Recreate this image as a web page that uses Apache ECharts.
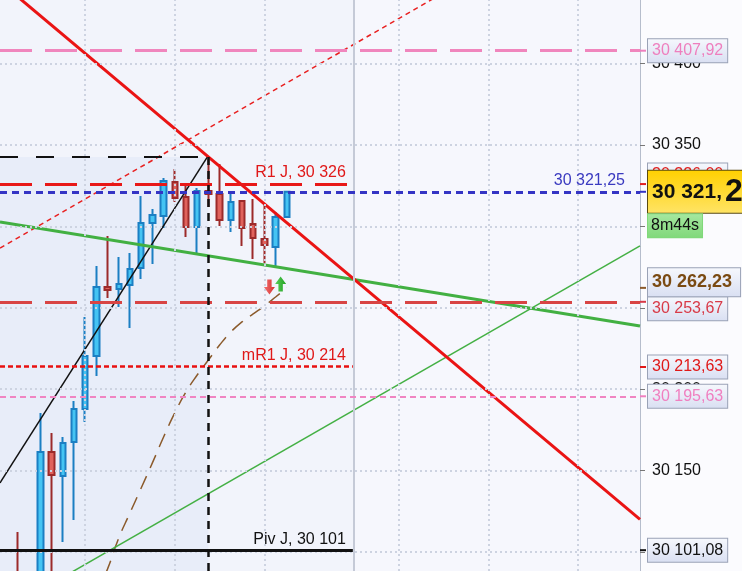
<!DOCTYPE html>
<html><head><meta charset="utf-8">
<script src="https://cdn.jsdelivr.net/npm/echarts@6/dist/echarts.min.js"></script>
<style>html,body{margin:0;padding:0;background:#fbfbfe;}#c{width:742px;height:571px;}</style>
</head><body><div id="c"></div>
<script>
const FONT = "'Liberation Sans', Arial, sans-serif";
// ---- axes extents (candle index on x, price on y)
const X_MIN = -1.607, X_MAX = 55.54;
const Y_MIN = 30088.3, Y_MAX = 30439.07;
const yTicks = [30100, 30150, 30200, 30250, 30300, 30350, 30400];
const gridXs = [6, 14, 22, 34, 42, 50];
const sessionX = 30;
// ---- candles
const candleIdx = [0,1,2,3,4,5,6,7,8,9,10,11,12,13,14,15,16,17,18,19,20,21,22,23,24];
const opens  = [30085,30060,30080,30161.4,30146.7,30167.6,30187.8,30220.4,30262.8,30261.5,30264.0,30274.4,30302.1,30306.4,30327.3,30318.1,30299.6,30321.7,30319.9,30303.9,30315.6,30301.5,30292.3,30287.3,30305.8];
const closes = [30070,30075,30161.4,30147.3,30167.0,30187.8,30220.4,30262.8,30260.9,30264.6,30273.8,30302.1,30307.0,30327.9,30317.4,30299.6,30321.7,30319.9,30303.9,30315.0,30299.0,30292.9,30288.6,30305.8,30321.25];
const lows   = [30060,30050,30070,30075,30106.1,30119.7,30179.9,30208.1,30256.0,30250.5,30237.6,30267.7,30276.9,30299.0,30315.0,30293.5,30282.4,30311.9,30300.2,30296.6,30288.0,30280.0,30277.5,30275.1,30305.8];
const highs  = [30112.3,30085,30185.4,30173.1,30170.6,30192.8,30244.3,30275.7,30294.1,30281.2,30283.7,30318.7,30310.7,30329.7,30335.3,30325.4,30323.6,30341.4,30338.3,30321.1,30316.2,30316.8,30313.8,30308.8,30321.25];
// ---- moving average (brown dashed)
const maIdx  = [7,8,9,10,11,12,13,14,15,16,17,18,19,20,21,22,23,24];
const maVals = [30073.6,30089.6,30108.6,30124.0,30139.3,30154.7,30170.6,30185.4,30198.3,30208.7,30217.9,30227.1,30235.1,30241.3,30246.2,30251.1,30256.6,30262.23];
// ---- trend lines (two end points each)
const redTrendX = [X_MIN, X_MAX], redTrendY = [30450.2, 30120.0];
const redDotX = [X_MIN, X_MAX], redDotY = [30286.7, 30513.0];
const greenX = [X_MIN, X_MAX], greenY = [30302.7, 30238.8];
const greenThinX = [X_MIN, X_MAX], greenThinY = [30062.3, 30288.0];
const blackX = [X_MIN, 16.9], blackY = [30142.4, 30342.6];
// ---- levels
const lastPrice = 30321.25;
const maLast = 30262.23;
const boxHigh = 30342.6, boxIdx = 17;
const pink1 = 30407.92, redLevel = 30253.67, pink2 = 30195.63;
const pivotNames = ['R1 J', 'mR1 J', 'Piv J'];
const pivotVals = [30326, 30214, 30101];
const pivotBoxVals = [30326.00, 30213.63, 30101.08];
const pivotEnd = 29.9;
const timerText = '8m44s';
const signalDown = [22.45, 30262.8], signalUp = [23.45, 30264.6], signalTxt = [23.2, 30253.0];

function fmt(v, dec) {
  const s = v.toFixed(dec); const p = s.split('.');
  const ip = p[0].replace(/\B(?=(\d{3})+(?!\d))/g, ' ');
  return p[1] ? ip + ',' + p[1] : ip;
}
const chart = echarts.init(document.getElementById('c'), null, {renderer: 'canvas'});
const G = echarts.graphic.LinearGradient;
const boxBg = () => new G(0,0,0,1,[{offset:0,color:'#f6f8fd'},{offset:1,color:'#d9dff2'}]);
function box(v, color, extra, tick) {
  return Object.assign({
    coord: [X_MAX, v],
    symbol: 'rect', symbolSize: [6, 2], symbolOffset: [3, 0],
    itemStyle: {color: tick || color},
    label: Object.assign({
      show: true, position: 'right', distance: 2, formatter: fmt(v, 2),
      color: color, fontSize: 16, fontFamily: FONT, lineHeight: 18,
      backgroundColor: boxBg(), borderColor: '#9aa2b6', borderWidth: 1, padding: [3, 4, 2, 4]
    }, extra || {})
  });
}
function seg(x0, x1, v, style, label) {
  return [{coord: [x0, v], lineStyle: style, label: label || {show: false}}, {coord: [x1, v]}];
}
function lineSeries(xs, ys, style, z) {
  return {type: 'line', data: xs.map((x, i) => [x, ys[i]]), showSymbol: false, symbol: 'none',
    lineStyle: style, z: z || 3, silent: true, clip: true, animation: false};
}
const dotted = {color: '#cdd3e1', width: 2, type: [2, 3]};
const pivLabel = (name, v, color) => ({show: true, position: 'insideEndTop', formatter: name + ', ' + fmt(v, 0),
  color: color, fontSize: 16, fontFamily: FONT, distance: [7, 3]});

const lastParts = fmt(lastPrice, 2).split(',');
const arrowDown = 'path://M3,0 L7,0 L7,7 L10,7 L5,14 L0,7 L3,7 Z';
const arrowUp = 'path://M5,0 L10,7 L7,7 L7,14 L3,14 L3,7 L0,7 Z';

const option = {
  animation: false,
  grid: {left: 0, right: 102, top: 0, bottom: 0, show: true, backgroundColor: '#f2f4fb', borderWidth: 0},
  xAxis: {type: 'value', min: X_MIN, max: X_MAX, show: false},
  yAxis: {type: 'value', position: 'right', min: Y_MIN, max: Y_MAX,
    axisLine: {show: true, onZero: false, lineStyle: {color: '#b6bdcc', width: 2}},
    axisTick: {show: true, length: 5, lineStyle: {color: '#777'}, customValues: yTicks},
    axisLabel: {customValues: yTicks, formatter: v => fmt(v, 0), color: '#111', fontSize: 16, fontFamily: FONT, margin: 12},
    splitLine: {show: false}},
  series: [
    { type: 'line', data: [[X_MIN, Y_MIN]], symbol: 'none', lineStyle: {opacity: 0}, z: 1, silent: true,
      markArea: {silent: true, label: {show: false},
        data: [
          [{coord: [X_MIN, Y_MIN], itemStyle: {color: '#e8edf9'}}, {coord: [boxIdx, boxHigh]}],
          [{coord: [sessionX, Y_MIN], itemStyle: {color: '#f6f7fd'}}, {coord: [X_MAX, Y_MAX]}]
        ]},
      markLine: {silent: true, symbol: 'none', animation: false, label: {show: false},
        data: yTicks.map(v => ({yAxis: v, lineStyle: dotted}))
          .concat(gridXs.map(x => ({xAxis: x, lineStyle: dotted})))
          .concat([{xAxis: sessionX, lineStyle: {color: '#c5cad7', width: 2, type: 'solid'}}])}
    },
    { type: 'candlestick', z: 2, barWidth: 6, clip: true, silent: true,
      encode: {x: 0, y: [1, 2, 3, 4]},
      data: candleIdx.map((x, i) => [x, opens[i], closes[i], lows[i], highs[i]]),
      itemStyle: {color: '#45c4f3', color0: '#e0625c', borderColor: '#1b7fc3', borderColor0: '#9c2a2a', borderWidth: 2}
    },
    Object.assign(lineSeries(maIdx, maVals, {color: '#8b5a2b', width: 1.5, type: [14, 9]}), {smooth: true}),
    lineSeries(greenThinX, greenThinY, {color: '#44b044', width: 1.5}),
    lineSeries(redDotX, redDotY, {color: '#e82020', width: 1.5, type: [5, 4]}),
    lineSeries(blackX, blackY, {color: '#111', width: 1.5}),
    lineSeries(greenX, greenY, {color: '#42b042', width: 3}),
    lineSeries(redTrendX, redTrendY, {color: '#ea1414', width: 3}),
    { type: 'line', data: [[X_MIN, Y_MIN]], symbol: 'none', lineStyle: {opacity: 0}, z: 4, silent: true,
      markLine: {silent: true, symbol: 'none', animation: false, label: {show: false},
        data: [
          {yAxis: pink1, lineStyle: {color: '#f086bd', width: 3, type: [32, 13]}},
          {yAxis: redLevel, lineStyle: {color: '#d84444', width: 3, type: [32, 13]}},
          {yAxis: pink2, lineStyle: {color: '#f085c2', width: 2, type: [6, 4]}},
          seg(X_MIN, pivotEnd, pivotVals[0], {color: '#e81818', width: 3, type: [32, 13]}, pivLabel(pivotNames[0], pivotVals[0], '#e01818')),
          seg(X_MIN, pivotEnd, pivotVals[1], {color: '#e81010', width: 2.5, type: [5, 3]}, pivLabel(pivotNames[1], pivotVals[1], '#e01818')),
          seg(X_MIN, pivotEnd, pivotVals[2], {color: '#111', width: 3, type: 'solid'}, pivLabel(pivotNames[2], pivotVals[2], '#111')),
          seg(X_MIN, boxIdx, boxHigh, {color: '#111', width: 2, type: [18, 18]}),
          [{coord: [boxIdx, boxHigh], lineStyle: {color: '#111', width: 2.5, type: [8, 6]}}, {coord: [boxIdx, Y_MIN]}],
          {yAxis: lastPrice, lineStyle: {color: '#3434c4', width: 3, type: [7, 5]},
            label: {show: true, position: 'insideEndTop', formatter: fmt(lastPrice, 2), color: '#3a3ac0', fontSize: 16, fontFamily: FONT, distance: [15, 3]}}
        ]}
    },
    { type: 'line', data: [[X_MIN, Y_MIN]], symbol: 'none', lineStyle: {opacity: 0}, z: 5, silent: true,
      markPoint: {silent: true, animation: false,
        data: [
          {coord: signalDown, symbol: arrowDown, symbolSize: [11, 15],
            itemStyle: {color: new G(0,0,1,0,[{offset:0,color:'#f07070'},{offset:1,color:'#d83030'}])}, label: {show: false}},
          {coord: signalUp, symbol: arrowUp, symbolSize: [11, 15],
            itemStyle: {color: new G(0,0,1,0,[{offset:0,color:'#5ad05a'},{offset:1,color:'#22a022'}])}, label: {show: false}},
          {coord: signalTxt, symbol: 'none', label: {show: true, position: 'inside', formatter: '6', fontSize: 11, color: '#222', fontFamily: FONT}},
          box(pink1, '#ee7fbe'),
          box(pivotBoxVals[0], '#e02020', {offset: [0, -9]}),
          box(redLevel, '#d83a48', {offset: [0, 7]}),
          box(maLast, '#7a4a12', {fontSize: 18, fontWeight: 'bold', lineHeight: 21, padding: [4, 8, 3, 4], offset: [0, -5.5]}, '#8b5a2b'),
          box(pivotBoxVals[1], '#e01818'),
          box(pink2, '#f07fc0'),
          box(pivotBoxVals[2], '#111'),
          box(lastPrice, '#111', {
            formatter: '{a|' + lastParts[0] + ',}{b|' + lastParts[1] + '}',
            rich: {a: {fontSize: 21, fontWeight: 'bold', color: '#111', fontFamily: FONT, lineHeight: 35},
                   b: {fontSize: 32, fontWeight: 'bold', color: '#111', fontFamily: FONT, lineHeight: 35, padding: [0, 0, 0, 3]}},
            backgroundColor: new G(0,0,0,1,[{offset:0,color:'#ffd000'},{offset:1,color:'#ffe466'}]),
            borderColor: '#5a4a10', padding: [4, 4, 3, 4]
          }, '#3434c4'),
          box(lastPrice, '#111', {formatter: timerText, offset: [0, 34],
            backgroundColor: new G(0,0,0,1,[{offset:0,color:'#a6e8a0'},{offset:1,color:'#80d87a'}]),
            borderColor: '#80d87a', padding: [3, 3, 2, 3]}, 'rgba(0,0,0,0)')
        ]}
    }
  ]
};
chart.setOption(option);
</script></body></html>
